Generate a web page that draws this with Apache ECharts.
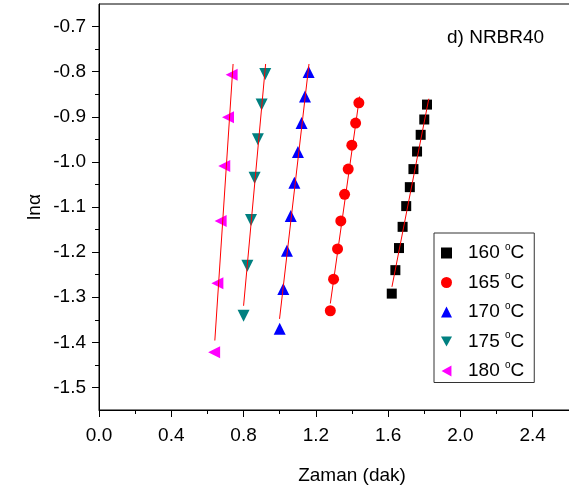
<!DOCTYPE html>
<html>
<head>
<meta charset="utf-8">
<script src="https://cdn.jsdelivr.net/npm/echarts@6/dist/echarts.min.js"></script>
<style>
  html, body { margin: 0; padding: 0; background: #fff; }
  #main { width: 569px; height: 497px; }
</style>
</head>
<body>
<div id="main"></div>
<script>
const chart = echarts.init(document.getElementById('main'))

// legend names (temperature)
const temps = ['160', '165', '170', '175', '180']

// measured points [time, ln alpha]
const t160 = [1.62, 1.64, 1.66, 1.68, 1.70, 1.72, 1.74, 1.76, 1.78, 1.80, 1.815]
const y160 = [-1.292, -1.240, -1.191, -1.144, -1.098, -1.056, -1.016, -0.977, -0.940, -0.906, -0.873]
const t165 = [1.28, 1.298, 1.32, 1.338, 1.359, 1.379, 1.399, 1.42, 1.438]
const y165 = [-1.330, -1.260, -1.193, -1.131, -1.072, -1.016, -0.963, -0.914, -0.869]
const t170 = [1.00, 1.02, 1.04, 1.061, 1.081, 1.101, 1.121, 1.14, 1.16]
const y170 = [-1.370, -1.282, -1.197, -1.120, -1.046, -0.978, -0.914, -0.855, -0.801]
const t175 = [0.80, 0.821, 0.841, 0.861, 0.879, 0.90, 0.92]
const y175 = [-1.341, -1.230, -1.129, -1.035, -0.950, -0.873, -0.805]
const t180 = [0.637, 0.655, 0.673, 0.693, 0.714, 0.734]
const y180 = [-1.422, -1.269, -1.131, -1.009, -0.901, -0.807]

// fitted lines, end points [x0, y0, x1, y1]
const fit160 = [1.621, -1.277, 1.825, -0.860]
const fit165 = [1.280, -1.314, 1.442, -0.855]
const fit170 = [0.999, -1.348, 1.162, -0.783]
const fit175 = [0.800, -1.319, 0.922, -0.783]
const fit180 = [0.641, -1.396, 0.742, -0.783]

const colors = ['#000000', '#ff0000', '#0000ff', '#008080', '#ff00ff']
const symbols = ['rect', 'circle', 'triangle', 'triangle', 'triangle']
const rotates = [0, 0, 0, 180, 90]
const sizes = [10, 11, 12, 12, 12]
// legend icons (legend does not rotate symbols)
const legendIcons = ['rect', 'circle', 'triangle', 'path://M0,0 L10,0 L5,9 Z', 'path://M9,0 L9,10 L0,5 Z']

const pts = [[t160, y160], [t165, y165], [t170, y170], [t175, y175], [t180, y180]]
const fits = [fit160, fit165, fit170, fit175, fit180]

const font = 'Liberation Sans, Arial, sans-serif'

let series = []
temps.forEach((t, i) => {
  series.push({
    name: t,
    type: 'scatter',
    symbol: symbols[i],
    symbolRotate: rotates[i],
    symbolSize: sizes[i],
    itemStyle: { color: colors[i], opacity: 1 },
    data: pts[i][0].map((x, k) => [x, pts[i][1][k]]),
    z: 3
  })
  series.push({
    type: 'line',
    showSymbol: false,
    silent: true,
    lineStyle: { color: '#ff0000', width: 1 },
    data: [[fits[i][0], fits[i][1]], [fits[i][2], fits[i][3]]],
    z: 4
  })
})

let option = {
  animation: false,
  backgroundColor: '#fff',
  title: {
    text: 'd) NRBR40',
    left: 442,
    top: 23,
    textStyle: { fontFamily: font, fontSize: 19, fontWeight: 'normal', color: '#000' }
  },
  legend: {
    data: temps.map((t, i) => ({ name: t, icon: legendIcons[i] })),
    orient: 'vertical',
    left: 434,
    top: 233,
    padding: [9, 10, 2, 7],
    itemWidth: 11,
    itemHeight: 11,
    itemGap: 9,
    borderColor: '#333',
    borderWidth: 1,
    formatter: (name) => '{g|}{n|' + name + ' }{s|o}{n|C}',
    textStyle: {
      fontFamily: font,
      color: '#000',
      rich: {
        g: { width: 11 },
        n: { fontSize: 19, lineHeight: 22, fontFamily: font, color: '#000' },
        s: { fontSize: 10, lineHeight: 12, verticalAlign: 'top', fontFamily: font, color: '#000' }
      }
    }
  },
  grid: [
    { left: 99, top: 4, width: 506, height: 406, show: true, borderColor: '#000', borderWidth: 1, outerBoundsMode: 'none', containLabel: false },
    { left: 99, top: 26.5, width: 506, height: 361, outerBoundsMode: 'none', containLabel: false }
  ],
  xAxis: [{
    gridIndex: 0,
    type: 'value',
    min: 0,
    max: 2.8,
    interval: 0.4,
    name: 'Zaman (dak)',
    nameLocation: 'middle',
    nameGap: 56,
    nameTextStyle: { fontFamily: font, fontSize: 19, color: '#000' },
    axisLine: { lineStyle: { color: '#000', width: 1 } },
    axisTick: { inside: false, length: 7, lineStyle: { color: '#000' } },
    minorTick: { show: true, splitNumber: 2, length: 4, lineStyle: { color: '#000' } },
    splitLine: { show: false },
    axisLabel: {
      fontFamily: font, fontSize: 19, color: '#000', margin: 16,
      formatter: (v) => v.toFixed(1)
    }
  }, {
    gridIndex: 1,
    type: 'value',
    min: 0,
    max: 2.8,
    show: false
  }],
  yAxis: [{
    gridIndex: 0,
    type: 'value',
    min: -1.55,
    max: -0.65,
    name: 'ln\u03b1',
    nameLocation: 'middle',
    nameGap: 55,
    nameTextStyle: { fontFamily: font, fontSize: 19, color: '#000' },
    axisLine: { show: true, lineStyle: { color: '#000', width: 1 } },
    axisTick: { show: false },
    axisLabel: { show: false },
    splitLine: { show: false }
  }, {
    gridIndex: 1,
    type: 'value',
    min: -1.5,
    max: -0.7,
    interval: 0.1,
    axisLine: { show: false },
    axisTick: { inside: false, length: 7, lineStyle: { color: '#000' } },
    minorTick: { show: true, splitNumber: 2, length: 4, lineStyle: { color: '#000' } },
    splitLine: { show: false },
    axisLabel: {
      fontFamily: font, fontSize: 19, color: '#000', margin: 13,
      formatter: (v) => v.toFixed(1)
    }
  }],
  series: series
}

chart.setOption(option)
</script>
</body>
</html>
